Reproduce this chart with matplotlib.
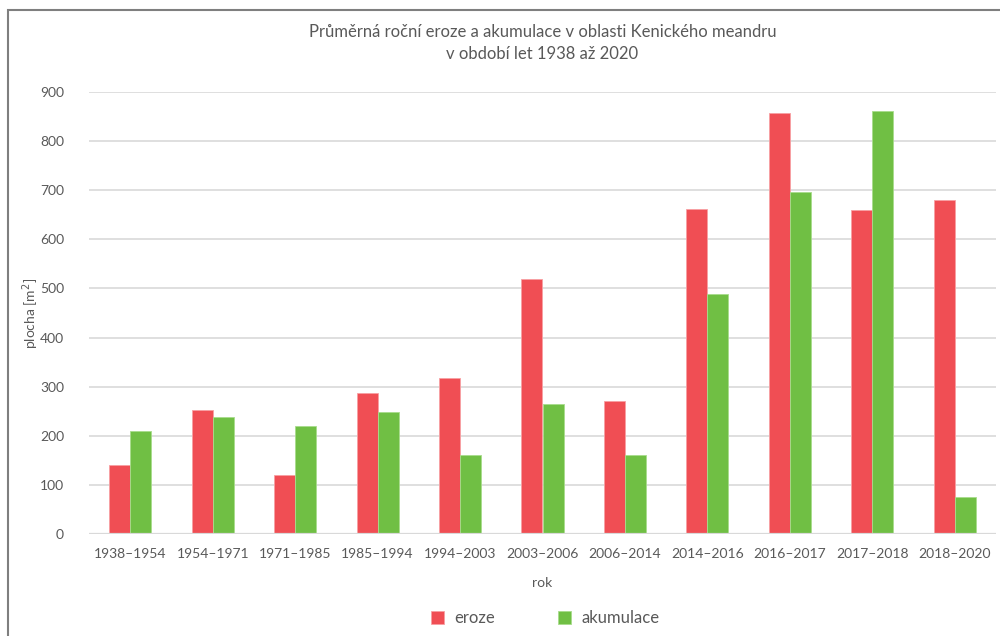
import numpy as np
import matplotlib.pyplot as plt
from matplotlib.patches import Rectangle

############### DATA ###################

obdobi = ["1938–1954", "1954–1971", "1971–1985", "1985–1994", "1994–2003",
          "2003–2006", "2006–2014", "2014–2016", "2016–2017", "2017–2018",
          "2018–2020"]
eroze = [140, 253, 120, 288, 318, 520, 271, 661, 858, 659, 680]
akumulace = [210, 239, 220, 248, 160, 264, 160, 489, 697, 862, 76]

############### STYLE ###################

plt.rcParams['font.family'] = ['Lato', 'DejaVu Sans']
text_col = "#595959"
red = "#F04E54"
green = "#70BF44"
grid_col = "#D9D9D9"

fig = plt.figure(figsize=(10, 6.36), dpi=100)
ax = fig.add_axes([0.089, 0.1604, 0.907, 0.6949])

x = np.arange(len(obdobi))
w = 0.255
ax.bar(x - w / 2, eroze, width=w, color=red, edgecolor="#F8A0A3", linewidth=0.6, label="eroze", zorder=3)
ax.bar(x + w / 2, akumulace, width=w, color=green, edgecolor="#A8DC8C", linewidth=0.6, label="akumulace", zorder=3)

ax.set_xlim(-0.5, len(obdobi) - 0.5)
ax.set_ylim(0, 900)
ax.set_yticks(np.arange(0, 901, 100))
ax.set_xticks(x)
ax.set_xticklabels(obdobi)

ax.grid(axis="y", color=grid_col, linewidth=1.2, zorder=0)
ax.axhline(0, color=grid_col, linewidth=1.6, zorder=4)
for s in ax.spines.values():
  s.set_visible(False)
ax.tick_params(axis="both", length=0, labelsize=10, colors=text_col)
ax.tick_params(axis="y", pad=18)
ax.tick_params(axis="x", pad=10)

ax.set_xlabel("rok", fontsize=10, color=text_col, labelpad=12)
ax.set_ylabel("plocha [m$^2$]", fontsize=10, color=text_col)
ax.yaxis.set_label_coords(-0.053, 0.5)

ax.set_title("Průměrná roční eroze a akumulace v oblasti Kenického meandru\nv období let 1938 až 2020",
             fontsize=12, color=text_col, pad=24, linespacing=1.45)

fig.legend(loc="center", bbox_to_anchor=(0.545, 0.028), ncol=2, frameon=False,
           fontsize=12, labelcolor=text_col, handlelength=0.8, handleheight=0.8,
           columnspacing=3.8, handletextpad=0.6)

# outer frame
fig.patches.append(Rectangle((0.008, -0.1), 1.2, 1.084, transform=fig.transFigure,
                             fill=False, edgecolor="#7F7F7F", linewidth=1.5))

fig.savefig("out.png", dpi=100)
